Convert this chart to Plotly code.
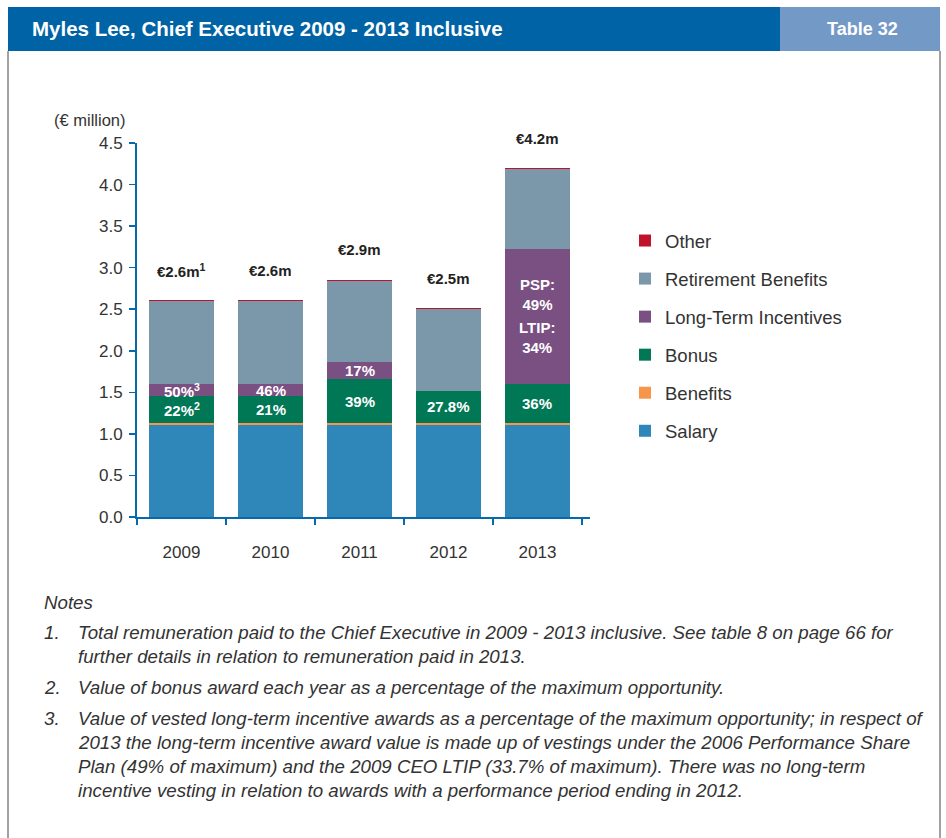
import plotly.graph_objects as go

years = ["2009", "2010", "2011", "2012", "2013"]
salary = [1.11, 1.11, 1.11, 1.11, 1.11]
benefits = [0.02, 0.02, 0.02, 0.02, 0.02]
bonus = [0.32, 0.32, 0.53, 0.39, 0.47]
lti = [0.145, 0.145, 0.205, 0.0, 1.627]
retirement = [1.0, 1.0, 0.976, 0.98, 0.96]
other = [0.012, 0.012, 0.012, 0.012, 0.012]
total_labels = ["€2.6m<sup>1</sup>", "€2.6m", "€2.9m", "€2.5m", "€4.2m"]
bonus_labels = ["22%<sup>2</sup>", "21%", "39%", "27.8%", "36%"]
lti_labels = ["50%<sup>3</sup>", "46%", "17%", "", ""]

series = [
    ("Salary", salary, "#2E87B8"),
    ("Benefits", benefits, "#F7964A"),
    ("Bonus", bonus, "#007755"),
    ("Long-Term Incentives", lti, "#7A5083"),
    ("Retirement Benefits", retirement, "#7A98AA"),
    ("Other", other, "#C0122A"),
]

W, H = 946, 838
L, R, T, B = 137, 590, 143, 517
FONT = "Liberation Sans, Arial, Helvetica, sans-serif"
AX = "#0868AC"

def px(x):
    return (x - L) / (R - L)

def py(y):
    return (B - y) / (B - T)

fig = go.Figure()
for i, (name, vals, col) in enumerate(series):
    fig.add_trace(go.Bar(
        x=years, y=vals, name=name, marker=dict(color=col, line=dict(width=0)),
        width=0.74, legendgroup=name, legendrank=100 - i, hoverinfo="skip",
    ))

ann = []
WF = dict(size=15, color="white", family=FONT)
for i, y in enumerate(years):
    tot = salary[i] + benefits[i] + bonus[i] + lti[i] + retirement[i] + other[i]
    ann.append(dict(x=i, y=tot, xref="x", yref="y", text="<b>%s</b>" % total_labels[i],
                    showarrow=False, yshift=30, font=dict(size=15, color="#222", family=FONT)))
    base = salary[i] + benefits[i]
    ann.append(dict(x=i, y=base + bonus[i] / 2, xref="x", yref="y", text="<b>%s</b>" % bonus_labels[i],
                    showarrow=False, font=WF))
    if lti_labels[i]:
        ann.append(dict(x=i, y=base + bonus[i] + lti[i] / 2, xref="x", yref="y",
                        text="<b>%s</b>" % lti_labels[i], showarrow=False, font=WF))
b13 = salary[4] + benefits[4] + bonus[4] + lti[4] / 2
ann.append(dict(x=4, y=b13, xref="x", yref="y", text="<b>PSP:<br>49%</b>", showarrow=False,
                yshift=22, font=WF))
ann.append(dict(x=4, y=b13, xref="x", yref="y", text="<b>LTIP:<br>34%</b>", showarrow=False,
                yshift=-21, font=WF))

# header
ann.append(dict(x=px(30), y=py(29), xref="paper", yref="paper", xanchor="left", yanchor="middle",
                text="<b>Myles Lee, Chief Executive 2009 - 2013 Inclusive</b>", showarrow=False,
                font=dict(size=20.5, color="white", family=FONT)))
ann.append(dict(x=px(862), y=py(29), xref="paper", yref="paper", xanchor="center", yanchor="middle",
                text="<b>Table 32</b>", showarrow=False, font=dict(size=18, color="white", family=FONT)))
ann.append(dict(x=px(52), y=py(120), xref="paper", yref="paper", xanchor="left", yanchor="middle",
                text="(€ million)", showarrow=False, font=dict(size=16.5, color="#333", family=FONT)))

notes = [
    (602, None, "Notes"),
    (632, "1.", "Total remuneration paid to the Chief Executive in 2009 - 2013 inclusive. See table 8 on page 66 for"),
    (656, None, "further details in relation to remuneration paid in 2013."),
    (687, "2.", "Value of bonus award each year as a percentage of the maximum opportunity."),
    (718, "3.", "Value of vested long-term incentive awards as a percentage of the maximum opportunity; in respect of"),
    (742, None, "2013 the long-term incentive award value is made up of vestings under the 2006 Performance Share"),
    (766, None, "Plan (49% of maximum) and the 2009 CEO LTIP (33.7% of maximum). There was no long-term"),
    (790, None, "incentive vesting in relation to awards with a performance period ending in 2012."),
]
NF = dict(size=18.7, color="#333", family=FONT)
for yy, num, txt in notes:
    xpos = 42 if txt == "Notes" else 76
    ann.append(dict(x=px(xpos), y=py(yy), xref="paper", yref="paper", xanchor="left", yanchor="middle",
                    text="<i>%s</i>" % txt, showarrow=False, font=NF))
    if num:
        ann.append(dict(x=px(42), y=py(yy), xref="paper", yref="paper", xanchor="left", yanchor="middle",
                        text="<i>%s</i>" % num, showarrow=False, font=NF))

shapes = [
    dict(type="rect", xref="paper", yref="paper", x0=px(8), x1=px(780), y0=py(7), y1=py(51),
         fillcolor="#0063A5", line=dict(width=0), layer="below"),
    dict(type="rect", xref="paper", yref="paper", x0=px(780), x1=px(940), y0=py(7), y1=py(51),
         fillcolor="#7399C7", line=dict(width=0), layer="below"),
    dict(type="line", xref="paper", yref="paper", x0=px(8), x1=px(8), y0=py(51), y1=py(838),
         line=dict(color="#444", width=1)),
    dict(type="line", xref="paper", yref="paper", x0=px(940), x1=px(940), y0=py(51), y1=py(838),
         line=dict(color="#444", width=1)),
]

fig.update_layout(
    width=W, height=H, barmode="stack", bargap=0.26,
    margin=dict(l=L, r=W - R, t=T, b=H - B, pad=0),
    paper_bgcolor="white", plot_bgcolor="white",
    font=dict(family=FONT, color="#333"),
    annotations=ann, shapes=shapes,
    legend=dict(traceorder="grouped", tracegroupgap=11, x=px(625), y=py(222),
                xanchor="left", yanchor="top", font=dict(size=18.5, color="#333", family=FONT),
                bgcolor="rgba(0,0,0,0)"),
    xaxis=dict(type="category", range=[-0.5, 4.59], showline=True, linecolor=AX, linewidth=2,
               ticks="outside", tickson="boundaries", ticklen=6, tickwidth=1.5, tickcolor=AX,
               showgrid=False, tickfont=dict(size=17, color="#333"), ticklabelstandoff=19,
               fixedrange=True),
    yaxis=dict(range=[0, 4.5], dtick=0.5, tickformat=".1f", showline=True, linecolor=AX, linewidth=2,
               ticks="outside", ticklen=6, tickwidth=1.5, tickcolor=AX, showgrid=False, zeroline=False,
               tickfont=dict(size=17, color="#333"), ticklabelstandoff=3, fixedrange=True),
)

fig.write_html("out.html", config={"displayModeBar": False, "staticPlot": True},
               post_script="document.body.style.margin='0';document.body.style.overflow='hidden';")
